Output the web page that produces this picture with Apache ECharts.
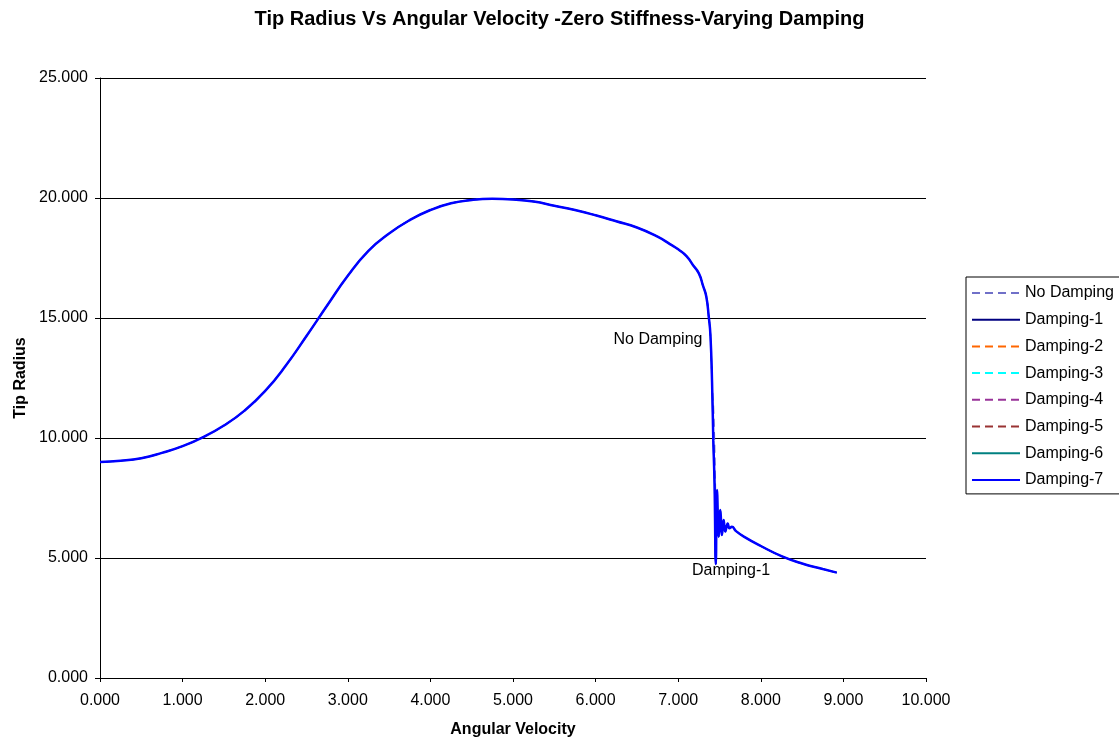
<!DOCTYPE html>
<html>
<head>
<meta charset="utf-8">
<script src="https://cdn.jsdelivr.net/npm/echarts@6/dist/echarts.min.js"></script>
<style>
html,body{margin:0;padding:0;background:#fff;}
#chart{width:1119px;height:742px;}
</style>
</head>
<body>
<div id="chart"></div>
<script>
// ---- Data ----
var seriesNames = ['No Damping','Damping-1','Damping-2','Damping-3','Damping-4','Damping-5','Damping-6','Damping-7'];

// Damped response (Damping-1 .. Damping-7 overlap almost exactly)
var dampedVelocity = [0, 0.25, 0.5, 0.75, 1.0, 1.25, 1.5, 1.75, 2.0, 2.25, 2.5, 2.75, 3.0, 3.25, 3.5, 3.75, 4.0, 4.25, 4.5, 4.75, 5.0, 5.25, 5.5, 5.75, 6.0, 6.25, 6.5, 6.75, 6.9, 7.0, 7.1, 7.18, 7.25, 7.3, 7.34, 7.37, 7.39, 7.41, 7.425, 7.44, 7.455, 7.47, 7.49, 7.51, 7.53, 7.55, 7.57, 7.6, 7.62, 7.65, 7.7, 7.8, 8.0, 8.25, 8.5, 8.75, 8.92];
var dampedRadius = [9.0, 9.05, 9.16, 9.38, 9.66, 10.04, 10.52, 11.14, 11.96, 13.02, 14.25, 15.52, 16.76, 17.8, 18.52, 19.08, 19.5, 19.78, 19.92, 19.97, 19.94, 19.85, 19.68, 19.5, 19.28, 19.03, 18.77, 18.39, 18.08, 17.86, 17.58, 17.2, 16.86, 16.35, 15.9, 15.05, 14.3, 12.3, 9.9, 8.1, 4.75, 7.83, 5.89, 7.0, 5.96, 6.58, 6.1, 6.44, 6.24, 6.3, 6.12, 5.88, 5.5, 5.08, 4.77, 4.54, 4.39];

// Undamped response
var noDampVelocity = [0, 0.25, 0.5, 0.75, 1.0, 1.25, 1.5, 1.75, 2.0, 2.25, 2.5, 2.75, 3.0, 3.25, 3.5, 3.75, 4.0, 4.25, 4.5, 4.75, 5.0, 5.25, 5.5, 5.75, 6.0, 6.25, 6.5, 6.75, 6.9, 7.0, 7.1, 7.18, 7.25, 7.3, 7.34, 7.37, 7.39, 7.41, 7.43, 7.45, 7.46, 7.5, 7.6, 7.7, 7.8, 8.0, 8.25, 8.5, 8.75, 8.92];
var noDampRadius = [9.0, 9.05, 9.16, 9.38, 9.66, 10.04, 10.52, 11.14, 11.96, 13.02, 14.25, 15.52, 16.76, 17.8, 18.52, 19.08, 19.5, 19.78, 19.92, 19.97, 19.94, 19.85, 19.68, 19.5, 19.28, 19.03, 18.77, 18.39, 18.08, 17.86, 17.58, 17.2, 16.86, 16.35, 15.9, 15.05, 14.3, 12.3, 11.0, 8.0, 6.3, 6.4, 6.3, 6.12, 5.88, 5.5, 5.08, 4.77, 4.54, 4.39];

var yTicks = [0, 5, 10, 15, 20, 25];
var xTicks = [0, 1, 2, 3, 4, 5, 6, 7, 8, 9, 10];

// Annotation labels (text, data-space position)
var annotationText = ['No Damping', 'Damping-1'];
var annotationX = [6.755, 7.64];
var annotationY = [14.09, 4.46];

// ---- Styles ----
var colors = ['#7070c8','#000080','#ff6600','#00ffff','#993399','#993333','#008080','#0000ff'];
var dashes = [[8,5],'solid',[8,5],[8,5],[8,5],[8,5],'solid','solid'];
var widths = [1.5, 1, 1, 1, 1, 1, 1.5, 2.5];

function pairs(xs, ys){ return xs.map(function(x,i){ return [x, ys[i]]; }); }

var series = seriesNames.map(function(name, i){
  var data = i === 0 ? pairs(noDampVelocity, noDampRadius) : pairs(dampedVelocity, dampedRadius);
  var s = {
    name: name,
    type: 'line',
    data: data,
    symbol: 'none',
    showSymbol: false,
    smooth: 0.5,
    animation: false,
    color: colors[i],
    lineStyle: { color: colors[i], width: widths[i], type: dashes[i] },
    z: 2 + i
  };
  if (i === seriesNames.length - 1) {
    s.markPoint = {
      symbol: 'rect',
      symbolSize: [1, 1],
      itemStyle: { color: 'rgba(0,0,0,0)' },
      label: {
        show: true, position: 'inside', color: '#000',
        fontFamily: 'Liberation Sans, Arial, sans-serif', fontSize: 16,
        formatter: function(p){ return p.name; }
      },
      data: annotationText.map(function(t, k){
        return { name: t, coord: [annotationX[k], annotationY[k]] };
      })
    };
  }
  return s;
});

var chart = echarts.init(document.getElementById('chart'), null, {renderer: 'canvas'});
var font = 'Liberation Sans, Arial, sans-serif';
chart.setOption({
  backgroundColor: '#ffffff',
  animation: false,
  textStyle: { fontFamily: font },
  title: {
    text: 'Tip Radius Vs Angular Velocity -Zero Stiffness-Varying Damping',
    left: 'center', top: 4,
    textStyle: { fontFamily: font, fontSize: 20, fontWeight: 'bold', color: '#000' }
  },
  legend: {
    orient: 'vertical',
    left: 966, top: 277,
    data: seriesNames,
    itemWidth: 48, itemHeight: 14, itemGap: 10.7,
    padding: [8, 14, 6, 5],
    borderColor: '#000', borderWidth: 1,
    backgroundColor: '#fff',
    itemStyle: { opacity: 0 },
    textStyle: { fontFamily: font, fontSize: 16, color: '#000' }
  },
  grid: { left: 100, top: 78, width: 826, height: 600, containLabel: false, outerBoundsMode: 'none' },
  xAxis: {
    type: 'value', min: xTicks[0], max: xTicks[xTicks.length-1], interval: 1,
    name: 'Angular Velocity', nameLocation: 'middle', nameGap: 44,
    nameTextStyle: { fontFamily: font, fontSize: 16, fontWeight: 'bold', color: '#000' },
    axisLine: { show: true, onZero: false, lineStyle: { color: '#000', width: 1 } },
    axisTick: { show: true, inside: false, length: 4, lineStyle: { color: '#000' } },
    axisLabel: { color: '#000', fontSize: 16, fontFamily: font, margin: 15,
      formatter: function(v){ return v.toFixed(3); } },
    splitLine: { show: false }
  },
  yAxis: {
    type: 'value', min: yTicks[0], max: yTicks[yTicks.length-1], interval: 5,
    name: 'Tip Radius', nameLocation: 'middle', nameGap: 71, nameRotate: 90,
    nameTextStyle: { fontFamily: font, fontSize: 16, fontWeight: 'bold', color: '#000' },
    axisLine: { show: true, onZero: false, lineStyle: { color: '#000', width: 1 } },
    axisTick: { show: true, inside: false, length: 5, lineStyle: { color: '#000' } },
    axisLabel: { color: '#000', fontSize: 16, fontFamily: font, margin: 12,
      formatter: function(v){ return v.toFixed(3); } },
    splitLine: { show: true, lineStyle: { color: '#000', width: 1 } }
  },
  series: series
});
</script>
</body>
</html>
